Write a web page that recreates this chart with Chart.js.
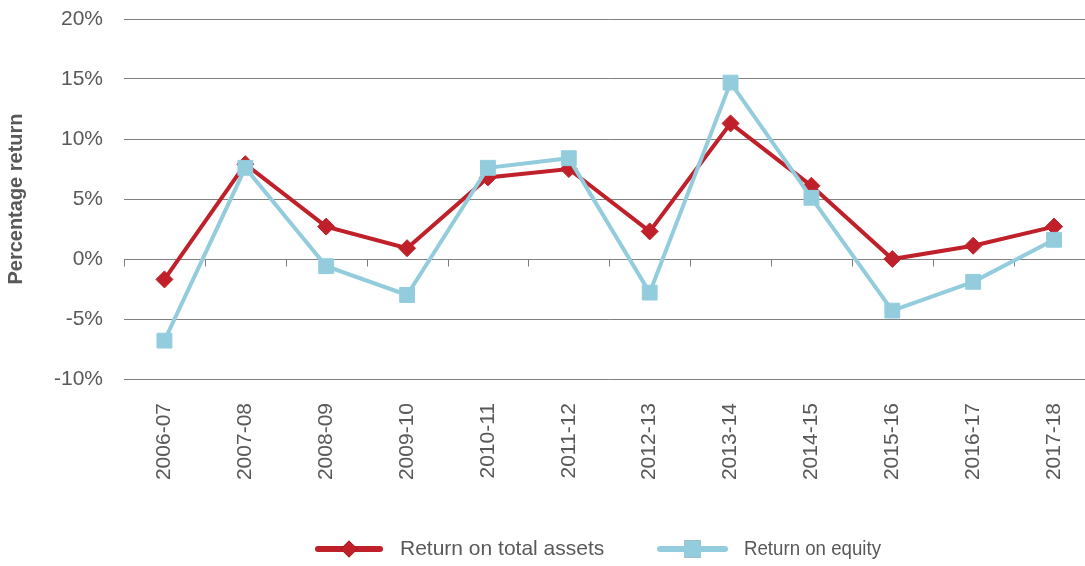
<!DOCTYPE html>
<html>
<head>
<meta charset="utf-8">
<script src="https://cdn.jsdelivr.net/npm/chart.js@4/dist/chart.umd.min.js"></script>
<style>
  html, body { margin: 0; padding: 0; background: #ffffff; overflow: hidden; }
  #wrap { width: 1106px; height: 566px; }
</style>
</head>
<body>
<div id="wrap"><canvas id="c" width="1106" height="566"></canvas></div>
<script>
// Financial years
const years = ['2006-07','2007-08','2008-09','2009-10','2010-11','2011-12',
               '2012-13','2013-14','2014-15','2015-16','2016-17','2017-18'];

// Percentage returns
const returnOnTotalAssets = [-1.7, 7.9, 2.7, 0.9, 6.8, 7.5, 2.3, 11.3, 6.1, 0.0, 1.1, 2.7];
const returnOnEquity      = [-6.8, 7.6, -0.6, -3.0, 7.6, 8.4, -2.8, 14.7, 5.1, -4.3, -1.9, 1.6];

// Value axis
const yMin = -10, yMax = 20, yStep = 5;

const FONT = '"Liberation Sans", Arial, sans-serif';
const TEXT = '#595959';
const GRID = '#808080';
const RED = '#C0202A';
const BLUE = '#93CDDD';

// Short tick marks hanging below the 0% line, at category boundaries
const zeroAxisTicks = {
  id: 'zeroAxisTicks',
  beforeDatasetsDraw(chart) {
    const x = chart.scales.x, y = chart.scales.y;
    const y0 = Math.round(y.getPixelForValue(0)) + 0.5;
    const half = (x.getPixelForValue(1) - x.getPixelForValue(0)) / 2;
    const ctx = chart.ctx;
    ctx.save();
    ctx.strokeStyle = GRID;
    ctx.lineWidth = 1;
    ctx.beginPath();
    for (let i = 0; i <= years.length; i++) {
      const px = Math.round(x.getPixelForValue(i) - half) + 0.5;
      ctx.moveTo(px, y0);
      ctx.lineTo(px, y0 + 7);
    }
    ctx.stroke();
    ctx.restore();
  }
};

// Legend drawn beneath the plot: line sample with marker, then the series name
const seriesLegend = {
  id: 'seriesLegend',
  afterDraw(chart) {
    const ctx = chart.ctx;
    const items = [
      { ds: chart.data.datasets[0], x: 318, w: 62, r: 8.5, textX: 400, maxW: 216 },
      { ds: chart.data.datasets[1], x: 660, w: 65, r: 12, textX: 744, maxW: 137 }
    ];
    const cy = 549;
    ctx.save();
    items.forEach(it => {
      const ds = it.ds;
      ctx.strokeStyle = ds.borderColor;
      ctx.lineWidth = 6;
      ctx.lineCap = 'round';
      ctx.beginPath();
      ctx.moveTo(it.x, cy);
      ctx.lineTo(it.x + it.w, cy);
      ctx.stroke();
      Chart.helpers.drawPoint(ctx, {
        pointStyle: ds.pointStyle,
        radius: it.r,
        borderWidth: 0,
        rotation: 0
      }, it.x + it.w / 2, cy);
      ctx.fillStyle = ds.pointBackgroundColor;
      ctx.fill();
      ctx.fillStyle = TEXT;
      ctx.font = '21px ' + FONT;
      ctx.textBaseline = 'middle';
      ctx.textAlign = 'left';
      ctx.fillText(ds.label, it.textX, cy, it.maxW);
    });
    ctx.restore();
  }
};

new Chart(document.getElementById('c'), {
  type: 'line',
  data: {
    labels: years,
    datasets: [
      {
        label: 'Return on total assets',
        data: returnOnTotalAssets,
        borderColor: RED,
        backgroundColor: RED,
        pointBackgroundColor: RED,
        pointBorderColor: RED,
        borderWidth: 4,
        pointStyle: 'rectRot',
        pointRadius: 8.5,
        pointBorderWidth: 1,
        tension: 0,
        order: 1
      },
      {
        label: 'Return on equity',
        data: returnOnEquity,
        borderColor: BLUE,
        backgroundColor: BLUE,
        pointBackgroundColor: BLUE,
        pointBorderColor: BLUE,
        borderWidth: 4,
        pointStyle: 'rect',
        pointRadius: 10.5,
        pointBorderWidth: 1,
        tension: 0,
        order: 0
      }
    ]
  },
  options: {
    responsive: false,
    animation: false,
    devicePixelRatio: 1,
    layout: { padding: { top: 19, right: 0, bottom: 0, left: 0 } },
    plugins: {
      legend: { display: false },
      tooltip: { enabled: false }
    },
    scales: {
      x: {
        offset: true,
        grid: { display: false },
        border: { display: false },
        ticks: {
          color: TEXT,
          font: { family: FONT, size: 21 },
          minRotation: 90,
          maxRotation: 90,
          padding: 16,
          autoSkip: false
        },
        afterFit(scale) { scale.height = 187; }
      },
      y: {
        min: yMin,
        max: yMax,
        border: { display: false },
        grid: {
          color: GRID,
          lineWidth: 1,
          drawTicks: true,
          tickLength: 21,
          tickColor: 'rgba(0,0,0,0)'
        },
        ticks: {
          stepSize: yStep,
          color: TEXT,
          padding: 0,
          font: { family: FONT, size: 21 },
          callback: v => v + '%'
        },
        title: {
          display: true,
          text: 'Percentage return',
          color: TEXT,
          padding: { top: 4, bottom: 0 },
          font: { family: FONT, size: 20, weight: 'bold' }
        },
        afterFit(scale) { scale.width = 124; }
      }
    }
  },
  plugins: [zeroAxisTicks, seriesLegend]
});
</script>
</body>
</html>
